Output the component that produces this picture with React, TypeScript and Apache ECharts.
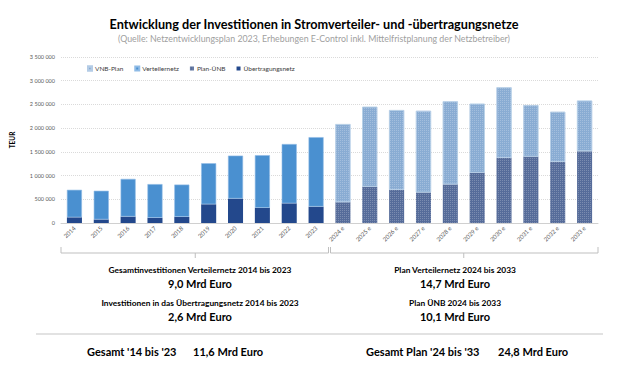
import React, { useEffect, useRef } from "react";
import * as echarts from "echarts";

const years = ["2014", "2015", "2016", "2017", "2018", "2019", "2020", "2021", "2022", "2023",
  "2024 e", "2025 e", "2026 e", "2027 e", "2028 e", "2029 e", "2030 e", "2031 e", "2032 e", "2033 e"];

// TEUR
const uebertragungsnetz = [120000, 75000, 135000, 110000, 130000, 395000, 515000, 320000, 415000, 345000,
  null, null, null, null, null, null, null, null, null, null];
const verteilernetz = [580000, 605000, 795000, 710000, 680000, 865000, 905000, 1110000, 1250000, 1465000,
  null, null, null, null, null, null, null, null, null, null];
const planUENB = [null, null, null, null, null, null, null, null, null, null,
  440000, 765000, 700000, 645000, 815000, 1060000, 1375000, 1400000, 1290000, 1515000];
const vnbPlan = [null, null, null, null, null, null, null, null, null, null,
  1645000, 1685000, 1680000, 1720000, 1750000, 1455000, 1485000, 1085000, 1055000, 1065000];

const legendNames = ["VNB-Plan", "Verteilernetz", "Plan-ÜNB", "Übertragungsnetz"];

const titleText = "Entwicklung der Investitionen in Stromverteiler- und -übertragungsnetze";
const subtitleText = "(Quelle: Netzentwicklungsplan 2023, Erhebungen E-Control inkl. Mittelfristplanung der Netzbetreiber)";
const leftNotes = [
  "Gesamtinvestitionen Verteilernetz 2014 bis 2023", "9,0 Mrd Euro",
  "Investitionen in das Übertragungsnetz 2014 bis 2023", "2,6 Mrd Euro",
];
const rightNotes = [
  "Plan Verteilernetz 2024 bis 2033", "14,7 Mrd Euro",
  "Plan ÜNB 2024 bis 2033", "10,1 Mrd Euro",
];
const totalLeft = ["Gesamt '14 bis '23", "11,6 Mrd Euro"];
const totalRight = ["Gesamt Plan '24 bis '33", "24,8 Mrd Euro"];

const FONT = "Lato, 'Open Sans', sans-serif";

const GRID_L = 61;
const GRID_R = 598;
const GRID_T = 57;
const GRID_B = 223;

function fmt(v: number) {
  return String(v).replace(/\B(?=(\d{3})+(?!\d))/g, " ");
}

const dither = {
  symbol: "rect",
  symbolSize: 1,
  dashArrayX: [1, 1],
  dashArrayY: [1, 1],
  rotation: 0,
  color: "rgba(255,255,255,0.22)",
};

export default function App() {
  const ref = useRef<HTMLDivElement>(null);
  useEffect(() => {
    document.body.style.margin = "0";
    const chart = echarts.init(ref.current!, null, { renderer: "svg" });
    const catW = (GRID_R - GRID_L) / years.length;
    const midL = GRID_L + catW * 5;
    const midR = GRID_L + catW * 15;
    const splitX = GRID_L + catW * 10;
    const txt = (x: number, y: number, text: string, size: number, bold: boolean, fill = "#000", align = "center") => ({
      type: "text",
      x,
      y,
      style: {
        text,
        fill,
        font: `${bold ? "bold " : ""}${size}px ${FONT}`,
        textAlign: align,
        textVerticalAlign: "middle",
      },
    });
    const bracket = (x1: number, x2: number) => ({
      type: "polyline",
      shape: { points: [[x1, 247], [x1, 253], [x2, 253], [x2, 247]] },
      style: { stroke: "#bfbfbf", lineWidth: 1, fill: null },
    });
    const tick = (x: number) => ({
      type: "line",
      shape: { x1: x, y1: 253, x2: x, y2: 258 },
      style: { stroke: "#bfbfbf", lineWidth: 1 },
    });
    chart.setOption({
      animation: false,
      backgroundColor: "#fff",
      textStyle: { fontFamily: FONT },
      grid: { left: GRID_L, right: 629 - GRID_R, top: GRID_T, bottom: 370 - GRID_B, containLabel: false },
      legend: {
        data: legendNames,
        left: 82,
        top: 60,
        itemWidth: 4,
        itemHeight: 4,
        itemGap: 11,
        icon: "rect",
        textStyle: { fontSize: 6.5, color: "#404040", fontFamily: FONT, padding: [0, 0, 0, -2] },
      },
      xAxis: {
        type: "category",
        data: years,
        axisLine: { lineStyle: { color: "#d0d0d0" } },
        axisTick: { length: 3, lineStyle: { color: "#d0d0d0" } },
        axisLabel: { rotate: 45, fontSize: 6, color: "#595959", margin: 4, interval: 0 },
      },
      yAxis: {
        type: "value",
        min: 0,
        max: 3500000,
        interval: 500000,
        name: "TEUR",
        nameLocation: "middle",
        nameRotate: 90,
        nameGap: 45,
        nameTextStyle: { fontSize: 6.5, fontWeight: "bold", color: "#000" },
        axisLine: { show: false },
        axisTick: { show: false },
        axisLabel: { fontSize: 5.5, color: "#595959", margin: 6, formatter: (v: number) => fmt(v) },
        splitLine: { lineStyle: { color: "#d0d0d0", type: [1, 1], width: 0.8 } },
      },
      series: [
        {
          name: "Übertragungsnetz", type: "bar", stack: "s", data: uebertragungsnetz, barWidth: "56%",
          itemStyle: { color: "#23488c" },
        },
        {
          name: "Verteilernetz", type: "bar", stack: "s", data: verteilernetz,
          itemStyle: { color: "#4a90d0", borderColor: "#8fbbe6", borderWidth: 0.6 },
        },
        {
          name: "Plan-ÜNB", type: "bar", stack: "s", data: planUENB,
          itemStyle: { color: "#566c9a", decal: dither },
        },
        {
          name: "VNB-Plan", type: "bar", stack: "s", data: vnbPlan,
          itemStyle: { color: "#89acd3", borderColor: "#b4cce6", borderWidth: 0.6, decal: dither },
        },
      ],
      graphic: [
        txt(314, 24, titleText, 12.7, true, "#000"),
        txt(314, 38, subtitleText, 8.8, false, "#a0a0a0"),
        bracket(GRID_L, splitX - 1),
        bracket(splitX + 1, GRID_R),
        tick(midL),
        tick(midR),
        txt(200, 269.5, leftNotes[0], 8.4, true, "#000"),
        txt(200, 283, leftNotes[1], 11, true, "#000"),
        txt(200, 302.5, leftNotes[2], 8.4, true, "#000"),
        txt(200, 316, leftNotes[3], 11, true, "#000"),
        txt(455, 269.5, rightNotes[0], 8.4, true, "#000"),
        txt(455, 283, rightNotes[1], 11, true, "#000"),
        txt(455, 302.5, rightNotes[2], 8.4, true, "#000"),
        txt(455, 316, rightNotes[3], 11, true, "#000"),
        {
          type: "line",
          shape: { x1: 36, y1: 334, x2: 603, y2: 334 },
          style: { stroke: "#d9d9d9", lineWidth: 1.5 },
        },
        txt(87, 351, totalLeft[0], 11, true, "#000", "left"),
        txt(193, 351, totalLeft[1], 11, true, "#000", "left"),
        txt(366, 351, totalRight[0], 11, true, "#000", "left"),
        txt(498, 351, totalRight[1], 11, true, "#000", "left"),
      ],
    });
    return () => chart.dispose();
  }, []);
  return <div ref={ref} style={{ position: "absolute", left: 0, top: 0, width: 629, height: 370 }} />;
}
